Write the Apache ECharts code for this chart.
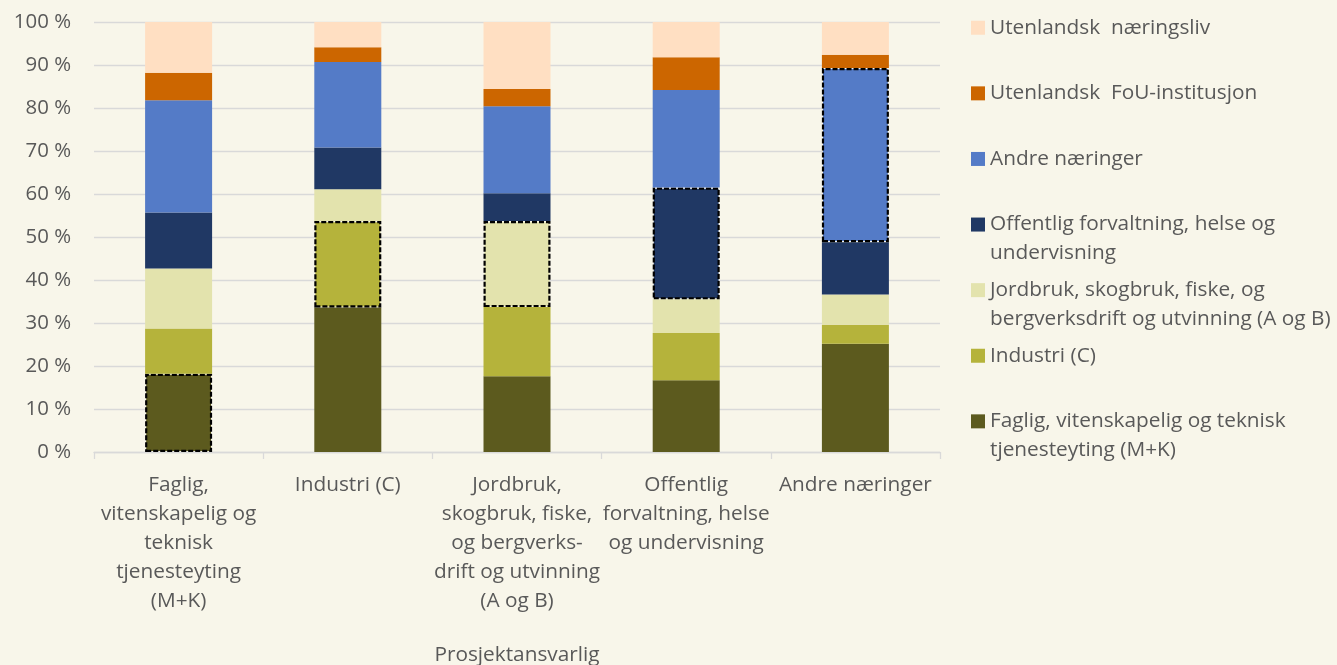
<!DOCTYPE html>
<html>
<head>
<meta charset="utf-8">
<script src="https://cdn.jsdelivr.net/npm/echarts@6/dist/echarts.min.js"></script>
<style>
  html, body { margin: 0; padding: 0; background: #F8F6EA; }
  #chart { width: 1337px; height: 665px; }
</style>
</head>
<body>
<div id="chart"></div>
<script>
// Categories on the x axis (project owner's industry)
const categories = [
  'Faglig,\nvitenskapelig og\nteknisk\ntjenesteyting\n(M+K)',
  'Industri (C)',
  'Jordbruk,\nskogbruk, fiske,\nog bergverks-\ndrift og utvinning\n(A og B)',
  'Offentlig\nforvaltning, helse\nog undervisning',
  'Andre næringer'
];

// Series names, bottom of the stack first
const seriesNames = [
  'Faglig, vitenskapelig og teknisk tjenesteyting (M+K)',
  'Industri (C)',
  'Jordbruk, skogbruk, fiske, og bergverksdrift og utvinning (A og B)',
  'Offentlig forvaltning, helse og undervisning',
  'Andre næringer',
  'Utenlandsk  FoU-institusjon',
  'Utenlandsk  næringsliv'
];

// Legend text, wrapped
const legendLabels = [
  'Faglig, vitenskapelig og teknisk\ntjenesteyting (M+K)',
  'Industri (C)',
  'Jordbruk, skogbruk, fiske, og\nbergverksdrift og utvinning (A og B)',
  'Offentlig forvaltning, helse og\nundervisning',
  'Andre næringer',
  'Utenlandsk  FoU-institusjon',
  'Utenlandsk  næringsliv'
];

// Shares in percent, one value per category
const faglig      = [18.2, 33.6, 17.6, 16.7, 25.2];
const industri    = [10.5, 20.1, 16.1, 11.0,  4.4];
const jordbruk    = [14.0,  7.4, 20.0,  7.8,  7.0];
const offentlig   = [13.0,  9.7,  6.5, 26.0, 12.2];
const andre       = [26.1, 19.9, 20.2, 22.7, 40.5];
const fou         = [ 6.4,  3.4,  4.0,  7.6,  3.1];
const naeringsliv = [11.8,  5.9, 15.6,  8.2,  7.6];

// For each category, the series that matches the project owner's own industry
const ownIndustry = [0, 1, 2, 3, 4];

const yTicks = [0, 10, 20, 30, 40, 50, 60, 70, 80, 90, 100];

const colors = ['#5C5A1E', '#B5B33B', '#E3E3AD', '#203864', '#547BC7', '#CC6600', '#FFDFC2'];
const values = [faglig, industri, jordbruk, offentlig, andre, fou, naeringsliv];

const FONT = '"Open Sans", "Noto Sans", sans-serif';
const TEXT = '#595959';
const FS = 20.8;

const chart = echarts.init(document.getElementById('chart'), null, { renderer: 'canvas' });

const series = values.map((arr, s) => ({
  name: seriesNames[s],
  type: 'bar',
  stack: 'total',
  barWidth: 67,
  color: colors[s],
  itemStyle: { color: colors[s] },
  data: arr.map((v, c) => ownIndustry[c] === s ? {
    value: v,
    itemStyle: {
      color: colors[s],
      borderColor: '#000000',
      borderWidth: 2.2,
      borderType: [5, 2]
    }
  } : v),
  emphasis: { disabled: true }
}));

const labelByName = {};
seriesNames.forEach((n, i) => { labelByName[n] = legendLabels[i]; });

chart.setOption({
  backgroundColor: '#F8F6EA',
  animation: false,
  textStyle: { fontFamily: FONT },
  grid: { left: 94, right: 397, top: 22, bottom: 213, containLabel: false, outerBoundsMode: 'none' },
  xAxis: {
    type: 'category',
    data: categories,
    name: 'Prosjektansvarlig',
    nameLocation: 'middle',
    nameGap: 193,
    nameTextStyle: { fontFamily: FONT, fontSize: FS, color: TEXT },
    axisLine: { show: true, lineStyle: { color: '#D9D9D9', width: 1.3 } },
    axisTick: { show: true, length: 7, alignWithLabel: false, lineStyle: { color: '#D9D9D9', width: 1.3 } },
    axisLabel: {
      interval: 0,
      margin: 19,
      fontFamily: FONT,
      fontSize: FS,
      lineHeight: 29,
      color: TEXT,
      align: 'center'
    }
  },
  yAxis: {
    type: 'value',
    min: yTicks[0],
    max: yTicks[yTicks.length - 1],
    interval: yTicks[1] - yTicks[0],
    axisLine: { show: false },
    axisTick: { show: false },
    splitLine: { lineStyle: { color: '#D9D9D9', width: 1.3 } },
    axisLabel: {
      margin: 23,
      fontFamily: FONT,
      fontSize: 20.4,
      color: TEXT,
      formatter: '{value} %'
    }
  },
  legend: {
    orient: 'vertical',
    left: 971,
    top: -15,
    padding: 0,
    itemWidth: 14,
    itemHeight: 14,
    itemGap: 65.6 - 3 * 28.5,
    icon: 'rect',
    selectedMode: false,
    data: seriesNames.slice().reverse(),
    formatter: name => {
      const lbl = labelByName[name];
      // keep the first line level with the colour square
      return lbl.indexOf('\n') >= 0 ? '\n' + lbl : '\n' + lbl + '\n';
    },
    textStyle: { fontFamily: FONT, fontSize: FS, lineHeight: 28.5, color: TEXT }
  },
  series: series
});
</script>
</body>
</html>
